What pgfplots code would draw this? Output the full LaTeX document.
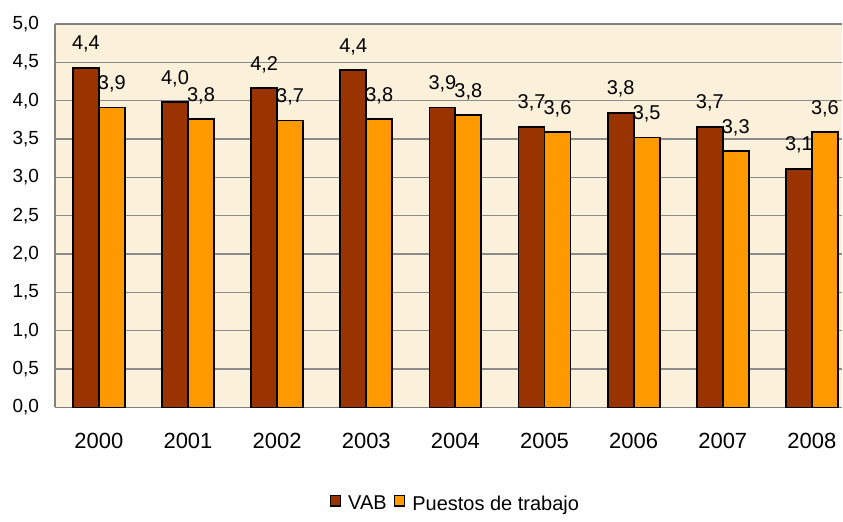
\documentclass[border=0pt]{standalone}
\usepackage{pgfplots}
\pgfplotsset{compat=1.18}
\usepackage{fontspec}
\setmainfont{Liberation Sans}
\definecolor{vab}{HTML}{993300}
\definecolor{pue}{HTML}{FF9900}
\definecolor{bg}{HTML}{FBF0DA}
\begin{document}
\fontsize{10pt}{12pt}\selectfont
\begin{tikzpicture}
\begin{axis}[
  scale only axis, width=394pt, height=192pt,
  xmin=-0.493, xmax=8.336, ymin=0, ymax=5,
  ytick={0,0.5,1,1.5,2,2.5,3,3.5,4,4.5,5},
  xtick={0,1,2,3,4,5,6,7,8},
  xticklabels={2000,2001,2002,2003,2004,2005,2006,2007,2008},
  /pgf/number format/assume math mode=true,
  yticklabel style={/pgf/number format/fixed, /pgf/number format/fixed zerofill,
     /pgf/number format/precision=1, /pgf/number format/use comma, xshift=-4.5pt,
     font=\fontsize{9.5pt}{11pt}\selectfont},
  xticklabel style={yshift=-9.4pt, font=\fontsize{11pt}{13pt}\selectfont},
  major tick length=0pt,
  ymajorgrids,
  grid style={draw=black!45, line width=0.6pt},
  axis x line*=box, axis y line*=left,
  axis line style={draw=black!50, line width=0.8pt},
  axis background/.style={fill=bg},
  ybar=0pt, bar width=13pt,
  every axis plot/.append style={draw=black, line width=0.9pt},
  nodes near coords,
  every node near coord/.append style={anchor=base, inner sep=0pt, yshift=9pt, text=black,
     font=\fontsize{10pt}{12pt}\selectfont,
     /pgf/number format/fixed, /pgf/number format/fixed zerofill,
     /pgf/number format/precision=1, /pgf/number format/use comma},
  legend columns=2,
  legend style={draw=none, fill=none, at={(0.51,-0.2526)}, anchor=center,
     font=\fontsize{10pt}{12pt}\selectfont,
     /tikz/every even column/.append style={column sep=1.5pt}},
  legend image code/.code={\draw[#1, line width=0.7pt] (0pt,-0.8pt) rectangle (5pt,4.4pt);
     \path[draw=none, fill=none] (5pt,1pt) -- (7pt,1pt);},
]
\addplot[fill=vab] coordinates {(0,4.43) (1,3.98) (2,4.16) (3,4.40) (4,3.91) (5,3.66) (6,3.84) (7,3.66) (8,3.11)};
\addplot[fill=pue] coordinates {(0,3.91) (1,3.76) (2,3.74) (3,3.76) (4,3.81) (5,3.59) (6,3.52) (7,3.34) (8,3.59)};
\legend{VAB, Puestos de trabajo}
\end{axis}
\path ([xshift=-27.5pt,yshift=-52.5pt]current axis.south west) rectangle ([yshift=12pt]current axis.north east);
\end{tikzpicture}
\end{document}
